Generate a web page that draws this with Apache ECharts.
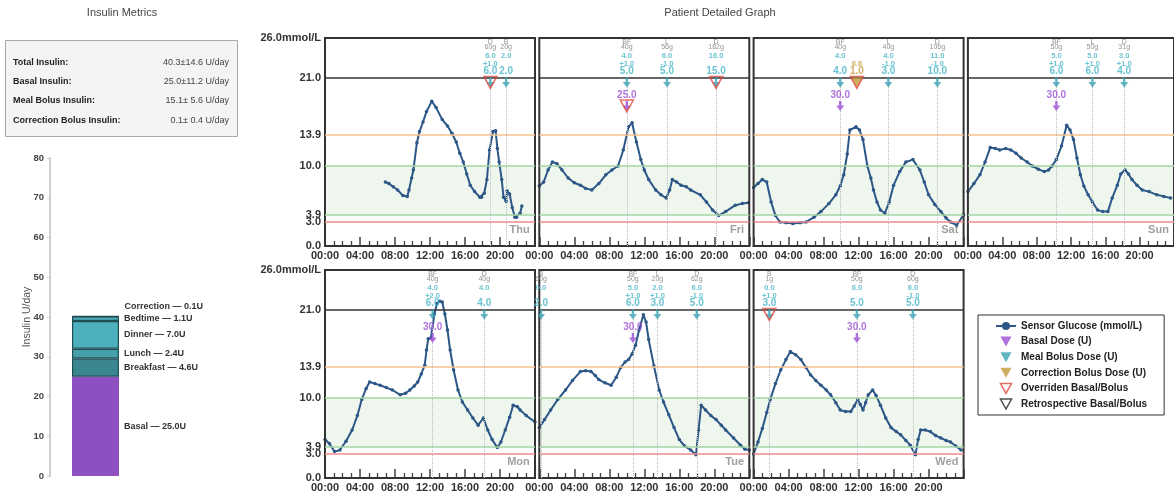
<!DOCTYPE html>
<html><head><meta charset="utf-8">
<script src="https://cdn.jsdelivr.net/npm/echarts@6/dist/echarts.min.js"></script>
<style>html,body{margin:0;padding:0;background:#fff}#c{width:1174px;height:500px}</style>
</head><body><div id="c"></div>
<script>
const FONT = '"Liberation Sans", Arial, sans-serif';

// ---- Insulin metrics ----
const metricLabels = ['Total Insulin:', 'Basal Insulin:', 'Meal Bolus Insulin:', 'Correction Bolus Insulin:'];
const metricValues = ['40.3\u00b114.6 U/day', '25.0\u00b111.2 U/day', '15.1\u00b1 5.6 U/day', '0.1\u00b1 0.4 U/day'];

// ---- Stacked insulin bar ----
const insulinParts = ['Basal', 'Breakfast', 'Lunch', 'Dinner', 'Bedtime', 'Correction'];
const insulinUnits = [25.0, 4.6, 2.4, 7.0, 1.1, 0.1];
const insulinColors = ['#8e4fc0', '#3b8790', '#45a0ab', '#4fb0bd', '#4fb0bd', '#4fb0bd'];

// ---- Glucose panels ----
const dayNames = ['Thu', 'Fri', 'Sat', 'Sun', 'Mon', 'Tue', 'Wed'];
const glucoseTicks = [0, 3.0, 3.9, 10.0, 13.9, 21.0, 26.0];
const hourTicks = [0, 4, 8, 12, 16, 20];

const glucoseThu = [[6.9,8.0],[7.3,7.8],[7.8,7.4],[8.3,7.0],[8.9,6.3],[9.4,6.2],[9.6,7.0],[9.9,8.5],[10.1,9.5],[10.5,12.9],[10.8,14.3],[11.2,15.5],[11.6,16.8],[12.2,18.1],[12.7,17.3],[13.4,15.8],[14.0,15.0],[14.5,14.1],[15.0,13.0],[15.4,11.6],[15.8,10.5],[16.2,9.0],[16.6,7.6],[17.1,6.8],[17.7,6.1],[17.9,6.1],[18.2,6.6],[18.5,8.3],[18.8,12.0],[19.2,14.3],[19.5,14.4],[19.7,12.2],[19.9,10.5],[20.2,8.3],[20.4,6.1],[20.7,5.6],[20.8,6.9],[21.1,6.5],[21.4,4.8],[21.7,3.6],[21.9,3.6],[22.3,4.1],[22.5,5.0]];
const glucoseFri = [[0,7.5],[0.5,8.0],[1.0,9.5],[1.5,10.5],[2.0,10.3],[2.6,9.5],[3.3,8.5],[4.0,7.9],[4.7,7.6],[5.3,7.2],[6.0,7.0],[6.8,7.8],[7.6,8.9],[8.3,9.5],[9.0,10.0],[9.6,12.0],[10.2,14.9],[10.6,15.4],[11.1,13.0],[11.6,10.8],[12.0,9.5],[12.5,8.3],[13.3,7.0],[13.9,6.4],[14.5,6.0],[14.9,7.0],[15.2,8.3],[15.7,8.0],[16.2,7.6],[16.8,7.4],[17.3,7.0],[18.4,6.4],[19.1,5.5],[19.8,4.5],[20.5,3.8],[21.3,4.3],[22.4,5.1],[23.2,5.3],[23.9,5.4]];
const glucoseSat = [[0,7.3],[0.5,7.8],[1.0,8.3],[1.5,8.0],[2.0,5.5],[2.5,3.8],[3.0,3.0],[3.7,2.9],[4.5,2.8],[5.3,2.9],[6.0,3.0],[6.9,3.6],[7.7,4.3],[8.6,5.3],[9.4,6.4],[9.9,7.5],[10.3,8.9],[10.7,11.5],[11.0,14.5],[11.7,14.9],[12.1,14.5],[12.5,13.3],[13.0,10.0],[13.4,8.5],[13.7,7.0],[14.1,5.5],[14.5,4.5],[15.0,4.1],[15.5,5.5],[16.0,7.6],[16.7,9.3],[17.4,10.5],[18.2,10.8],[19.0,9.5],[19.5,8.0],[20.0,6.4],[20.7,5.2],[21.4,4.3],[22.0,3.5],[22.5,3.0],[23.2,2.6],[24.0,3.9]];
const glucoseSun = [[0,6.8],[0.7,7.8],[1.4,8.9],[2.0,10.5],[2.6,12.3],[3.2,12.2],[3.7,12.0],[4.4,12.2],[5.0,12.0],[5.6,11.6],[6.2,11.0],[6.9,10.5],[7.5,10.0],[8.2,9.6],[8.9,9.3],[9.4,9.5],[9.8,10.0],[10.3,10.8],[10.9,12.5],[11.5,15.1],[11.9,14.5],[12.3,13.3],[12.7,11.0],[13.1,8.9],[13.5,7.5],[14.0,6.4],[14.5,5.5],[15.1,4.5],[15.7,4.3],[16.3,4.3],[16.8,6.0],[17.4,7.6],[17.8,9.0],[18.3,9.5],[18.7,9.0],[19.1,8.3],[19.7,7.6],[20.3,7.0],[21.1,6.8],[22.0,6.4],[22.8,6.2],[23.6,6.0]];
const glucoseMon = [[0,4.8],[0.5,4.3],[1.1,3.3],[1.7,3.5],[2.4,4.6],[3.1,6.0],[3.7,7.8],[4.2,9.8],[4.7,11.2],[5.1,12.0],[5.7,11.8],[6.3,11.6],[7.0,11.3],[7.7,11.0],[8.6,10.4],[9.2,10.6],[9.7,11.0],[10.2,11.5],[10.6,12.0],[11.0,13.0],[11.4,14.1],[11.6,16.0],[11.8,17.4],[12.1,17.5],[12.5,20.5],[12.8,21.8],[13.1,22.1],[13.4,22.0],[13.7,20.5],[14.0,18.5],[14.3,16.0],[14.7,13.5],[15.2,11.0],[15.7,9.5],[16.3,8.5],[16.9,7.5],[17.5,6.6],[18.1,7.5],[18.6,6.0],[19.1,4.8],[19.7,3.8],[20.1,4.5],[20.6,6.0],[21.1,7.6],[21.5,9.1],[22.0,8.9],[22.3,8.5],[23.0,7.8],[24,7.0]];
const glucoseTue = [[0,6.3],[0.6,7.3],[1.3,8.5],[2.1,9.8],[3.0,11.0],[3.8,12.2],[4.7,13.3],[5.3,13.4],[5.9,13.3],[6.4,12.8],[6.8,12.3],[7.5,11.9],[8.2,11.6],[8.8,12.6],[9.3,13.8],[9.8,14.5],[10.2,14.8],[10.6,15.5],[11.0,16.6],[11.4,18.5],[11.9,20.4],[12.2,19.5],[12.5,17.3],[13.1,14.0],[13.7,11.0],[14.2,9.5],[14.8,7.9],[15.4,6.3],[16.0,4.8],[16.6,4.0],[17.3,3.5],[17.9,2.9],[18.2,6.0],[18.5,9.1],[19.0,8.5],[19.6,7.8],[20.2,7.3],[20.8,6.6],[21.3,6.0],[22.2,5.0],[23.0,4.1],[23.5,3.6],[24,3.5]];
const glucoseWed = [[0,3.0],[0.5,4.5],[1.0,6.2],[1.5,8.2],[1.9,9.8],[2.5,11.8],[3.1,13.5],[3.7,14.8],[4.2,15.8],[4.8,15.4],[5.4,14.8],[6.0,13.8],[6.5,12.9],[7.1,12.2],[7.7,11.6],[8.3,11.0],[8.8,10.4],[9.4,9.4],[9.9,8.5],[10.5,8.3],[11.1,8.3],[11.5,9.0],[11.9,9.8],[12.2,9.2],[12.5,8.5],[12.8,9.4],[13.1,10.4],[13.6,11.0],[14.0,10.3],[14.5,9.1],[15.1,7.5],[15.7,6.3],[16.3,5.8],[16.8,5.4],[17.4,4.7],[17.9,4.1],[18.5,2.9],[18.8,4.8],[19.1,6.0],[19.6,6.0],[20.2,5.8],[20.8,5.3],[21.4,5.0],[22.0,4.7],[22.5,4.5],[23.1,4.0],[23.7,3.5]];

// meal events: [hour, meal, carbs, recommended, adjustment, delivered, overridden]
const mealsThu = [[18.9,'D','60g','6.0','+1.0','6.0',1],[20.7,'B','20g','2.0','','2.0',0]];
const mealsFri = [[10.0,'BF','40g','4.0','+1.0','5.0',0],[14.6,'L','56g','6.0','-1.0','5.0',0],[20.2,'D','182g','16.0','','15.0',1]];
const mealsSat = [[9.9,'BF','40g','4.0','','4.0',0],[15.4,'L','40g','4.0','-1.0','3.0',0],[21.0,'D','106g','11.0','-1.0','10.0',0]];
const mealsSun = [[10.3,'BF','50g','5.0','+1.0','6.0',0],[14.5,'L','50g','5.0','+1.0','6.0',0],[18.2,'D','31g','3.0','+1.0','4.0',0]];
const mealsMon = [[12.3,'BF','40g','4.0','+2.0','6.0',0],[18.2,'D','40g','4.0','','4.0',0]];
const mealsTue = [[0.2,'B','60g','0.0','','2.0',0],[10.7,'BF','50g','5.0','+1.0','6.0',0],[13.5,'L','20g','2.0','+1.0','3.0',0],[18.0,'D','62g','6.0','-1.0','5.0',0]];
const mealsWed = [[1.8,'B','1g','0.0','+1.0','3.0',1],[11.8,'BF','50g','6.0','','5.0',0],[18.2,'D','60g','6.0','-1.0','5.0',0]];

// basal events: [hour, dose, overridden]
const basalThu = [];
const basalFri = [[10.0,'25.0',1]];
const basalSat = [[9.9,'30.0',0]];
const basalSun = [[10.3,'30.0',0]];
const basalMon = [[12.3,'30.0',0]];
const basalTue = [[10.7,'30.0',0]];
const basalWed = [[11.8,'30.0',0]];

// correction events: [hour, recommended, delivered, overridden]
const corrSat = [[11.8,'6.6','1.0',1]];

const glucoseByDay = [glucoseThu, glucoseFri, glucoseSat, glucoseSun, glucoseMon, glucoseTue, glucoseWed];
const mealsByDay = [mealsThu, mealsFri, mealsSat, mealsSun, mealsMon, mealsTue, mealsWed];
const basalByDay = [basalThu, basalFri, basalSat, basalSun, basalMon, basalTue, basalWed];
const corrByDay = [[], [], corrSat, [], [], [], []];

// ---- styling / layout constants ----
const C_GLU = '#2c5786', C_BASAL = '#9b4fd6', C_MEAL = '#3aa3b3', C_MEALTXT = '#45b4c6',
      C_CORR = '#c39a3a', C_OVR = '#e0483e', C_GRAY = '#777';
const L_MEAL = 25.55, L_CARB = 24.9, L_REC = 23.75, L_ADJ = 22.75, L_FIN = 21.85, L_MARK = 20.45,
      L_BTXT = 18.9, L_BMARK = 17.5;
const ARROW = 'path://M3.5,0 L6.5,0 L6.5,5 L10,5 L5,11 L0,5 L3.5,5 Z';
const TRI = 'path://M0,0 L10,0 L5,9 Z';

const grids = [], xAxes = [], yAxes = [], series = [];

// bar chart
grids.push({left: 50, top: 158, width: 91, height: 318});
xAxes.push({type: 'category', gridIndex: 0, data: ['Insulin'], show: false});
yAxes.push({type: 'value', gridIndex: 0, min: 0, max: 80, interval: 10,
  name: 'Insulin U/day', nameLocation: 'middle', nameGap: 17, nameMoveOverlap: false,
  nameTextStyle: {color: '#555', fontSize: 10.5, fontFamily: FONT},
  axisLine: {show: true, lineStyle: {color: '#cfcfcf', width: 2}},
  axisTick: {show: true, length: 3, lineStyle: {color: '#cfcfcf'}},
  axisLabel: {color: '#444', fontWeight: 'bold', fontSize: 9.5, margin: 6, fontFamily: FONT},
  splitLine: {show: false}});
insulinParts.forEach((p, i) => {
  series.push({type: 'bar', name: p, xAxisIndex: 0, yAxisIndex: 0, stack: 'ins', barWidth: 47,
    data: [insulinUnits[i]], silent: true,
    itemStyle: {color: insulinColors[i], borderColor: i === 0 ? '#8e4fc0' : '#1f4d54', borderWidth: i === 0 ? 0 : 1.2},
    label: {show: true, position: 'right', distance: 5,
      formatter: p + ' \u2014 ' + insulinUnits[i].toFixed(1) + 'U',
      offset: i === 5 ? [0, -10] : [0, 0],
      color: '#333', fontWeight: 'bold', fontSize: 9, fontFamily: FONT}});
});

const fmtHour = v => String(v).padStart(2, '0') + ':00';

dayNames.forEach((day, k) => {
  const c = k % 4, r = Math.floor(k / 4), gi = k + 1;
  grids.push({left: 325 + c * 214.3, top: r ? 270 : 38, width: 210, height: 208,
    show: true, borderColor: '#333', borderWidth: 2, backgroundColor: 'rgba(0,0,0,0)', z: 4});
  xAxes.push({type: 'value', gridIndex: gi, min: 0, max: 24, interval: 4,
    axisLine: {show: true, onZero: false, lineStyle: {color: '#333', width: 2}},
    axisTick: {show: true, inside: true, length: 9, lineStyle: {color: '#444', width: 1.5}},
    minorTick: {show: true, splitNumber: 4, length: 5, lineStyle: {color: '#444', width: 1.3}},
    splitLine: {show: false},
    axisLabel: {formatter: fmtHour, showMaxLabel: false, color: '#333', fontWeight: 'bold', fontSize: 11, margin: 4, fontFamily: FONT}});
  yAxes.push({type: 'value', gridIndex: gi, min: 0, max: 26,
    axisLine: {show: false}, axisTick: {show: false}, splitLine: {show: false},
    axisLabel: {show: c === 0, customValues: glucoseTicks,
      formatter: v => v === 26 ? '26.0mmol/L' : v.toFixed(1),
      color: '#333', fontWeight: 'bold', fontSize: 11, margin: 4, fontFamily: FONT}});

  const meals = mealsByDay[k], basal = basalByDay[k], corr = corrByDay[k];

  // reference lines / target range / meal guide lines
  series.push({type: 'line', xAxisIndex: gi, yAxisIndex: gi, data: [], silent: true, z: 1,
    markArea: {silent: true, itemStyle: {color: '#eef6ee'}, data: [[{yAxis: 3.9}, {yAxis: 10}]]},
    markLine: {silent: true, symbol: 'none', label: {show: false}, animation: false,
      data: [
        {yAxis: 21, lineStyle: {color: '#333', width: 1.5, type: 'solid'}},
        {yAxis: 13.9, lineStyle: {color: '#f6c08c', width: 1.5, type: 'solid'}},
        {yAxis: 10, lineStyle: {color: '#a3d6a3', width: 1.5, type: 'solid'}},
        {yAxis: 3.9, lineStyle: {color: '#a3d6a3', width: 1.5, type: 'solid'}},
        {yAxis: 3.0, lineStyle: {color: '#f08a8a', width: 1.5, type: 'solid'}}
      ].concat(meals.map(m => [{coord: [m[0], 0], lineStyle: {color: '#bbb', width: 1, type: 'dotted'}}, {coord: [m[0], L_MARK]}]))}});

  // glucose
  series.push({type: 'line', name: 'Sensor Glucose (mmol/L)', xAxisIndex: gi, yAxisIndex: gi,
    data: glucoseByDay[k], symbol: 'circle', symbolSize: 3.5, showSymbol: true, silent: true,
    lineStyle: {color: C_GLU, width: 2}, itemStyle: {color: C_GLU}, z: 3});

  // annotation texts
  const texts = [];
  meals.forEach(m => {
    texts.push({value: [m[0], L_MEAL], label: {formatter: m[1], color: C_GRAY, fontSize: 7}});
    texts.push({value: [m[0], L_CARB], label: {formatter: m[2], color: C_GRAY, fontSize: 7}});
    texts.push({value: [m[0], L_REC], label: {formatter: m[3], color: C_MEALTXT, fontSize: 7.5, fontWeight: 'bold'}});
    if (m[4]) texts.push({value: [m[0], L_ADJ], label: {formatter: m[4], color: C_MEALTXT, fontSize: 7.5, fontWeight: 'bold'}});
    texts.push({value: [m[0], L_FIN], label: {formatter: m[5], color: C_MEALTXT, fontSize: 10, fontWeight: 'bold'}});
  });
  basal.forEach(b => texts.push({value: [b[0], L_BTXT], label: {formatter: b[1], color: C_BASAL, fontSize: 10, fontWeight: 'bold'}}));
  corr.forEach(cr => {
    texts.push({value: [cr[0], L_ADJ], label: {formatter: cr[1], color: C_CORR, fontSize: 7.5, fontWeight: 'bold'}});
    texts.push({value: [cr[0], L_FIN], label: {formatter: cr[2], color: C_CORR, fontSize: 10, fontWeight: 'bold'}});
  });
  series.push({type: 'scatter', xAxisIndex: gi, yAxisIndex: gi, data: texts, symbolSize: 0, silent: true, z: 6,
    label: {show: true, position: 'inside', fontFamily: FONT}});

  // day label
  series.push({type: 'scatter', xAxisIndex: gi, yAxisIndex: gi, data: [[23.4, 2.0]], symbolSize: 0, silent: true, z: 6,
    label: {show: true, position: 'left', distance: 0, formatter: day, color: '#888', fontWeight: 'bold', fontSize: 11, fontFamily: FONT}});

  // markers
  series.push({type: 'scatter', name: 'Meal Bolus Dose (U)', xAxisIndex: gi, yAxisIndex: gi, silent: true, z: 7,
    data: meals.map(m => [m[0], L_MARK]), symbol: ARROW, symbolSize: [8, 10], itemStyle: {color: C_MEAL}});
  series.push({type: 'scatter', name: 'Basal Dose (U)', xAxisIndex: gi, yAxisIndex: gi, silent: true, z: 7,
    data: basal.map(b => [b[0], L_BMARK]), symbol: ARROW, symbolSize: [8, 10], itemStyle: {color: C_BASAL}});
  series.push({type: 'scatter', name: 'Correction Bolus Dose (U)', xAxisIndex: gi, yAxisIndex: gi, silent: true, z: 7,
    data: corr.map(cr => [cr[0], L_MARK]), symbol: TRI, symbolSize: [11, 10], itemStyle: {color: C_CORR}});
  const ovr = meals.filter(m => m[6]).map(m => [m[0], L_MARK])
    .concat(basal.filter(b => b[2]).map(b => [b[0], L_BMARK]))
    .concat(corr.filter(cr => cr[3]).map(cr => [cr[0], L_MARK]));
  series.push({type: 'scatter', name: 'Overriden Basal/Bolus', xAxisIndex: gi, yAxisIndex: gi, silent: true, z: 8,
    data: ovr, symbol: TRI, symbolSize: [13, 12], itemStyle: {color: 'rgba(0,0,0,0)', borderColor: C_OVR, borderWidth: 1.5}});
  series.push({type: 'scatter', name: 'Retrospective Basal/Bolus', xAxisIndex: gi, yAxisIndex: gi, silent: true, z: 8,
    data: [], symbol: TRI, itemStyle: {color: 'rgba(0,0,0,0)', borderColor: '#222', borderWidth: 1.5}});
});

const graphic = [
  {type: 'text', x: 122, y: 13, style: {text: 'Insulin Metrics', textAlign: 'center', textVerticalAlign: 'middle', font: '11px ' + FONT, fill: '#444'}},
  {type: 'text', x: 720, y: 13, style: {text: 'Patient Detailed Graph', textAlign: 'center', textVerticalAlign: 'middle', font: '11px ' + FONT, fill: '#444'}},
  {type: 'rect', shape: {x: 5.5, y: 40.5, width: 232, height: 96}, style: {fill: '#f4f4f4', stroke: '#a8a8a8', lineWidth: 1}}
];
metricLabels.forEach((t, i) => {
  const y = 62.5 + i * 19.2;
  graphic.push({type: 'text', x: 13, y: y, style: {text: t, textAlign: 'left', textVerticalAlign: 'middle', font: 'bold 9px ' + FONT, fill: '#222'}});
  graphic.push({type: 'text', x: 229, y: y, style: {text: metricValues[i], textAlign: 'right', textVerticalAlign: 'middle', font: '9px ' + FONT, fill: '#444'}});
});

const option = {
  animation: false,
  backgroundColor: '#fff',
  textStyle: {fontFamily: FONT},
  grid: grids, xAxis: xAxes, yAxis: yAxes, series: series, graphic: graphic,
  legend: {
    left: 978, top: 315, orient: 'vertical', selectedMode: false,
    padding: [5, 17, 5, 17], itemGap: 3.6, itemWidth: 20, itemHeight: 10,
    backgroundColor: '#fff', borderColor: '#333', borderWidth: 1,
    textStyle: {color: '#222', fontWeight: 'bold', fontSize: 10, lineHeight: 12, fontFamily: FONT},
    data: [
      {name: 'Sensor Glucose (mmol/L)'},
      {name: 'Basal Dose (U)', icon: TRI, itemStyle: {color: C_BASAL}},
      {name: 'Meal Bolus Dose (U)', icon: TRI, itemStyle: {color: C_MEAL}},
      {name: 'Correction Bolus Dose (U)', icon: TRI, itemStyle: {color: C_CORR}},
      {name: 'Overriden Basal/Bolus', icon: TRI, itemStyle: {color: '#fff', borderColor: C_OVR, borderWidth: 1.5}},
      {name: 'Retrospective Basal/Bolus', icon: TRI, itemStyle: {color: '#fff', borderColor: '#222', borderWidth: 1.5}}
    ]
  }
};
const chart = echarts.init(document.getElementById('c'), null, {renderer: 'canvas'});
chart.setOption(option);
</script></body></html>
